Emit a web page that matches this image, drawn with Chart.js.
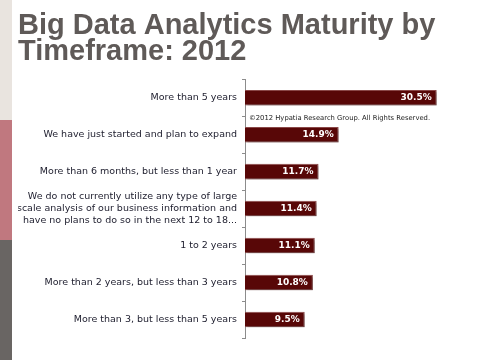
<!DOCTYPE html>
<html>
<head>
<meta charset="utf-8">
<script src="https://cdn.jsdelivr.net/npm/chart.js@4"></script>
<style>
  html, body { margin: 0; padding: 0; background: #ffffff; }
  #wrap { position: relative; width: 480px; height: 360px; }
  canvas { display: block; }
</style>
</head>
<body>
<div id="wrap"><canvas id="c" width="480" height="360"></canvas></div>
<script>
const titleLines = ['Big Data Analytics Maturity by', 'Timeframe: 2012'];
const categories = [
  'More than 5 years',
  'We have just started and plan to expand',
  'More than 6 months, but less than 1 year',
  ['We do not currently utilize any type of large', 'scale analysis of our business information and', 'have no plans to do so in the next 12 to 18...'],
  '1 to 2 years',
  'More than 2 years, but less than 3 years',
  'More than 3, but less than 5 years'
];
const values = [30.5, 14.9, 11.7, 11.4, 11.1, 10.8, 9.5];
const copyrightText = '\u00A92012 Hypatia Research Group. All Rights Reserved.';

const sideStrip = {
  id: 'sideStrip',
  beforeDraw(chart) {
    const ctx = chart.ctx;
    ctx.save();
    ctx.fillStyle = '#e9e4df'; ctx.fillRect(0, 0, 12, 120);
    ctx.fillStyle = '#c0787f'; ctx.fillRect(0, 120, 12, 120);
    ctx.fillStyle = '#696563'; ctx.fillRect(0, 240, 12, 120);
    ctx.restore();
  }
};

const barShadow = {
  id: 'barShadow',
  beforeDatasetsDraw(chart) {
    const ctx = chart.ctx;
    ctx.save();
    ctx.shadowColor = 'rgba(0,0,0,0.28)';
    ctx.shadowOffsetX = 2;
    ctx.shadowOffsetY = 2;
    ctx.shadowBlur = 2;
  },
  afterDatasetsDraw(chart) {
    chart.ctx.restore();
  }
};

const valueLabels = {
  id: 'valueLabels',
  afterDatasetsDraw(chart) {
    const ctx = chart.ctx;
    const meta = chart.getDatasetMeta(0);
    ctx.save();
    ctx.font = 'bold 9px "DejaVu Sans"';
    ctx.fillStyle = '#ffffff';
    ctx.textAlign = 'right';
    ctx.textBaseline = 'middle';
    meta.data.forEach((bar, i) => {
      ctx.fillText(values[i].toFixed(1) + '%', bar.x - 5, bar.y);
    });
    const b0 = meta.data[0];
    ctx.font = '6.8px "DejaVu Sans"';
    ctx.fillStyle = '#222222';
    ctx.textAlign = 'left';
    ctx.fillText(copyrightText, chart.chartArea.left + 4, b0.y + 20.5);
    ctx.restore();
  }
};

new Chart(document.getElementById('c'), {
  type: 'bar',
  data: {
    labels: categories,
    datasets: [{
      data: values,
      backgroundColor: '#580707',
      borderColor: '#8a4848',
      borderWidth: 1,
      borderSkipped: 'start',
      barPercentage: 0.42,
      categoryPercentage: 1.0
    }]
  },
  options: {
    indexAxis: 'y',
    responsive: false,
    animation: false,
    events: [],
    layout: { padding: { left: 18, right: 15, top: 0, bottom: 22 } },
    plugins: {
      legend: { display: false },
      tooltip: { enabled: false },
      title: {
        display: true,
        text: titleLines,
        align: 'start',
        color: '#5f5a58',
        font: { family: '"Liberation Sans", Arial, sans-serif', size: 29, weight: 'bold', lineHeight: 0.9 },
        padding: { top: 13, bottom: 14 }
      }
    },
    scales: {
      x: {
        display: false,
        min: 0,
        max: 35
      },
      y: {
        afterFit(scale) { scale.width = 227; },
        grid: {
          display: true,
          drawOnChartArea: false,
          drawTicks: true,
          tickLength: 3,
          color: '#8c8c8c',
          offset: true
        },
        border: { display: true, color: '#8c8c8c', width: 1 },
        ticks: {
          color: '#1c1c2c',
          padding: 5,
          font: { family: '"DejaVu Sans", Verdana, sans-serif', size: 9.5, lineHeight: 1.22 },
          autoSkip: false
        }
      }
    }
  },
  plugins: [sideStrip, barShadow, valueLabels]
});
</script>
</body>
</html>
